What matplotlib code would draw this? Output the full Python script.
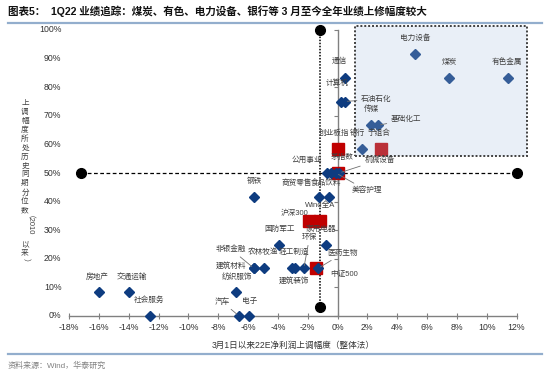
import matplotlib
matplotlib.use('Agg')
import matplotlib.pyplot as plt
from matplotlib.patches import Rectangle
import matplotlib.transforms as mtransforms

plt.rcParams['font.family'] = ['Liberation Sans', 'Noto Sans CJK SC', 'DejaVu Sans']

# ---------------- data (x: % upgrade since Mar-1, y: historical percentile %) ----------------
ind_names = ['社会服务', '汽车', '电子', '房地产', '交通运输', '纺织服饰', '非银金融', '建筑材料',
             '农林牧渔', '轻工制造', '建筑装饰', '环保', '医药生物', '国防军工', '家用电器',
             '钢铁', '商贸零售', '食品饮料', '公用事业', '综合', '美容护理', '机械设备', '银行',
             '传媒', '基础化工', '计算机', '石油石化', '通信', '煤炭', '有色金属', '电力设备']
ind_x = [-12.55, -6.6, -5.9, -16.0, -14.0, -6.8, -5.6, -5.6,
         -4.9, -3.07, -2.84, -2.26, -1.3, -3.9, -0.8,
         -5.6, -1.25, -0.58, -0.72, -0.42, -0.1, 0.1, 1.66,
         2.26, 2.7, 0.25, 0.47, 0.47, 7.5, 11.4, 5.2]
ind_y = [0.0, 0.0, 0.0, 8.33, 8.33, 8.33, 16.67, 16.67,
         16.67, 16.67, 16.67, 16.67, 16.67, 25.0, 25.0,
         41.67, 41.67, 41.67, 50.0, 50.0, 50.0, 50.0, 58.33,
         66.67, 66.67, 75.0, 75.0, 83.33, 83.33, 83.33, 91.67]

idx_names = ['沪深300', 'Wind全A', '中证500', '茅指数', '创业板指', '宁组合']
idx_x = [-1.93, -1.14, -1.43, 0.0, 0.0, 2.9]
idx_y = [33.33, 33.33, 16.67, 50.0, 58.33, 58.33]

ref_x = -1.14          # Wind全A upgrade (vertical reference)
ref_y = 50.0           # median percentile (horizontal reference)
ref_v_span = [3.0, 100.0]
ref_h_span = [-17.2, 12.0]

x_ticks = list(range(-18, 13, 2))
y_ticks = list(range(0, 101, 10))

title = '图表5：  1Q22 业绩追踪：煤炭、有色、电力设备、银行等 3 月至今全年业绩上修幅度较大'
xlabel = '3月1日以来22E净利润上调幅度（整体法）'
source = '资料来源：Wind，华泰研究'

# label placement (text positions in data units) and which use leader lines
label_pos = {
    '社会服务': (-12.6, 5.6), '汽车': (-7.74, 5.0), '电子': (-5.86, 5.0),
    '房地产': (-16.1, 13.5), '交通运输': (-13.8, 13.5), '纺织服饰': (-6.76, 13.8),
    '非银金融': (-7.13, 23.3), '建筑材料': (-7.13, 17.5), '农林牧渔': (-5.0, 22.2),
    '轻工制造': (-2.9, 22.2), '建筑装饰': (-2.9, 12.3), '环保': (-1.88, 27.4),
    '医药生物': (0.36, 21.9), '国防军工': (-3.9, 30.4), '家用电器': (-1.1, 30.4),
    '钢铁': (-5.57, 47.0), '商贸零售': (-2.75, 46.5), '食品饮料': (-0.74, 46.5),
    '公用事业': (-2.08, 54.6), '美容护理': (1.95, 43.9), '机械设备': (2.82, 54.6),
    '银行': (1.35, 64.0), '传媒': (2.26, 72.3), '基础化工': (4.6, 68.6),
    '计算机': (0.0, 81.5), '石油石化': (2.6, 75.8), '通信': (0.15, 89.0),
    '煤炭': (7.5, 88.8), '有色金属': (11.36, 88.8), '电力设备': (5.2, 97.2),
    '沪深300': (-2.9, 36.0), 'Wind全A': (-1.16, 38.8), '中证500': (0.47, 14.7),
    '茅指数': (0.34, 55.4), '创业板指': (-0.2, 64.0), '宁组合': (2.8, 64.0),
}
leaders = {'汽车', '非银金融', '环保', '医药生物', '美容护理', '机械设备', '基础化工', '石油石化'}

# ---------------- figure ----------------
W, H = 550, 378
fig = plt.figure(figsize=(W / 100, H / 100), dpi=100)
ax = fig.add_axes([69 / W, 1 - 316 / H, (516.5 - 69) / W, (316 - 30) / H])
ax.set_xlim(-18, 12)
ax.set_ylim(0, 100)

axis_col = '#808080'
txt_col = '#333333'
lab_col = '#404040'
navy = '#0E3C80'
red = '#C00000'

for s in ['top', 'right']:
    ax.spines[s].set_visible(False)
ax.spines['left'].set_position(('data', 0))
ax.spines['left'].set_color(axis_col)
ax.spines['bottom'].set_color(axis_col)
ax.spines['left'].set_linewidth(1.0)
ax.spines['bottom'].set_linewidth(1.0)

ax.set_xticks(x_ticks)
ax.set_xticklabels([f'{t}%' for t in x_ticks], fontsize=6.3, color=txt_col)
ax.tick_params(axis='x', direction='inout', length=4, width=0.8, color=axis_col, pad=3)
ax.set_yticks(y_ticks)
ax.tick_params(axis='y', direction='out', length=3, width=0.8, color=axis_col, labelleft=False)

blend = mtransforms.blended_transform_factory(ax.transAxes, ax.transData)
for t in y_ticks:
    ax.text(-0.017, t, f'{t}%', transform=blend, ha='right', va='center', fontsize=6.3, color=txt_col)

# reference lines
ax.plot(ref_h_span, [ref_y, ref_y], color='black', lw=0.9, ls=(0, (3, 2)), zorder=2, clip_on=False)
ax.plot(ref_h_span, [ref_y, ref_y], 'o', color='black', ms=7, zorder=2, clip_on=False)
ax.plot([ref_x, ref_x], ref_v_span, color='black', lw=1.1, ls=(0, (1, 1)), zorder=2, clip_on=False)
ax.plot([ref_x, ref_x], ref_v_span, 'o', color='black', ms=7, zorder=2, clip_on=False)

# markers
ax.plot(idx_x, idx_y, 's', color=red, ms=8.5, mec=red, zorder=3, clip_on=False, ls='none')
ax.plot(ind_x, ind_y, 'D', color=navy, ms=5.2, mec=navy, zorder=3.5, clip_on=False, ls='none')

# highlighted box
box = Rectangle((1.15, 56.0), 11.55, 45.5, facecolor=(171 / 255, 195 / 255, 227 / 255, 0.25),
                edgecolor='#404040', lw=1.4, ls=(0, (1, 1)), zorder=4, clip_on=False)
ax.add_patch(box)

# labels
all_names = ind_names + idx_names
all_x = ind_x + idx_x
all_y = ind_y + idx_y
for n, x, y in zip(all_names, all_x, all_y):
    if n not in label_pos:
        continue
    lx, ly = label_pos[n]
    if n in leaders:
        ax.annotate(n, xy=(x, y), xytext=(lx, ly), ha='center', va='center', fontsize=5.5,
                    color=lab_col, zorder=6, annotation_clip=False,
                    arrowprops=dict(arrowstyle='-', color='#707070', lw=0.6, shrinkA=1, shrinkB=2))
    else:
        ax.text(lx, ly, n, ha='center', va='center', fontsize=5.5, color=lab_col, zorder=6, clip_on=False)

# title, separators, axis labels, source
fig.text(8 / W, 1 - 11 / H, title, fontsize=7.6, fontweight='bold', color='#111111', ha='left', va='center')
fig.add_artist(plt.Line2D([8 / W, 542 / W], [1 - 22.5 / H, 1 - 22.5 / H], color='#93AECD', lw=1.6))
fig.add_artist(plt.Line2D([8 / W, 542 / W], [1 - 354 / H, 1 - 354 / H], color='#93AECD', lw=1.6))
fig.text(293 / W, 1 - 345 / H, xlabel, fontsize=6.2, color=txt_col, ha='center', va='center')
fig.text(8 / W, 1 - 366 / H, source, fontsize=5.8, color='#808080', ha='left', va='center')

# stacked vertical y label
segments = [('上调幅度所处历史同期分位数', False), ('（2010', True), ('以来', False), ('）', True)]
renderer = fig.canvas.get_renderer()
char_step = 8.9
items = []
total = 0.0
for seg, rot in segments:
    if rot:
        t = fig.text(0, 0, seg, fontsize=5.5, color=lab_col, rotation=-90, ha='center', va='center')
        h = t.get_window_extent(renderer).height
        items.append((t, h, True))
        total += h + 1
    else:
        for ch in seg:
            t = fig.text(0, 0, ch, fontsize=5.5, color=lab_col, ha='center', va='center')
            items.append((t, char_step, False))
            total += char_step
ycur = 183 - total / 2
for t, h, rot in items:
    t.set_position((25 / W, 1 - (ycur + h / 2) / H))
    ycur += h + (1 if rot else 0)

fig.savefig('out.png', dpi=100)
